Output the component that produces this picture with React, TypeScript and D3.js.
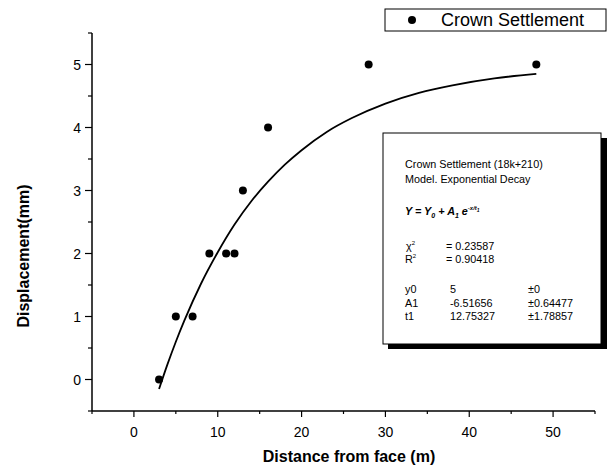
import React from "react";
import * as d3 from "d3";

const distance = [3, 5, 7, 9, 11, 12, 13, 16, 28, 48];
const settlement = [0, 1, 1, 2, 2, 2, 3, 4, 5, 5];

// fitted curve
const fitX = [3, 4, 5, 6, 8, 10, 12, 14, 16, 18, 20, 23, 26, 30, 34, 38, 43, 48];
const fitY = [-0.15, 0.24, 0.6, 0.93, 1.52, 2.02, 2.46, 2.83, 3.14, 3.41, 3.64, 3.93, 4.15, 4.38, 4.55, 4.67, 4.78, 4.85];

const xTicks = [0, 10, 20, 30, 40, 50];
const yTicks = [0, 1, 2, 3, 4, 5];

const statRows = [
  ["y0", "5", "±0"],
  ["A1", "-6.51656", "±0.64477"],
  ["t1", "12.75327", "±1.78857"],
];

const width = 607;
const height = 468;
const font = "'Liberation Sans', Arial, sans-serif";

const App = () => {
  const x = d3.scaleLinear().domain([-5, 55]).range([92, 595]);
  const y = d3.scaleLinear().domain([-0.5, 5.5]).range([411, 33]);

  const line = d3
    .line<number>()
    .x((d) => x(d))
    .y((d, i) => y(fitY[i]))
    .curve(d3.curveMonotoneX);

  const xMinor = d3.range(-5, 55.01, 5);
  const yMinor = d3.range(-0.5, 5.51, 0.5);

  return (
    <svg
      width={width}
      height={height}
      style={{ position: "absolute", left: 0, top: 0, background: "#fff" }}
      fontFamily={font}
    >
      {/* axes */}
      <line x1={92} x2={92} y1={y(5.5)} y2={y(-0.5)} stroke="#000" strokeWidth={1.5} />
      <line x1={92} x2={595} y1={411} y2={411} stroke="#000" strokeWidth={1.5} />
      {xMinor.map((t) => (
        <line key={"xm" + t} x1={x(t)} x2={x(t)} y1={411} y2={Number.isInteger(t / 10) ? 417 : 414} stroke="#000" strokeWidth={1.2} />
      ))}
      {yMinor.map((t) => (
        <line key={"ym" + t} x1={92} x2={Number.isInteger(t) ? 85 : 88} y1={y(t)} y2={y(t)} stroke="#000" strokeWidth={1.2} />
      ))}
      {xTicks.map((t) => (
        <text key={"xt" + t} x={x(t)} y={437} fontSize={14} textAnchor="middle">
          {t}
        </text>
      ))}
      {yTicks.map((t) => (
        <text key={"yt" + t} x={81} y={y(t) + 5} fontSize={14} textAnchor="end">
          {t}
        </text>
      ))}
      <text x={349} y={462} fontSize={16} fontWeight="bold" textAnchor="middle">
        Distance from face (m)
      </text>
      <text
        transform="translate(29,256) rotate(-90)"
        fontSize={16}
        fontWeight="bold"
        textAnchor="middle"
      >
        Displacement(mm)
      </text>

      {/* fit curve */}
      <path d={line(fitX) || ""} fill="none" stroke="#000" strokeWidth={1.8} />

      {/* points */}
      {distance.map((d, i) => (
        <circle key={i} cx={x(d)} cy={y(settlement[i])} r={4} fill="#000" />
      ))}

      {/* legend */}
      <rect x={385} y={9} width={221} height={22} fill="#fff" stroke="#000" strokeWidth={1} />
      <circle cx={412} cy={20} r={4} fill="#000" />
      <text x={441} y={26} fontSize={18}>
        Crown Settlement
      </text>

      {/* stats box */}
      <rect x={388} y={138} width={219} height={211} fill="#000" />
      <rect x={383} y={133} width={218} height={211} fill="#fff" stroke="#000" strokeWidth={1} />
      <g fontSize={10.8}>
        <text x={405} y={168}>Crown Settlement (18k+210)</text>
        <text x={405} y={183}>Model. Exponential Decay</text>
        <text x={405} y={215} fontWeight="bold" fontStyle="italic">
          Y = Y<tspan fontSize={7} dy={3}>0</tspan>
          <tspan dy={-3}> + A</tspan>
          <tspan fontSize={7} dy={3}>1</tspan>
          <tspan dy={-3}> e</tspan>
          <tspan fontSize={6} dy={-5}>-x/t</tspan>
          <tspan fontSize={5} dy={2}>1</tspan>
        </text>
        <text x={406} y={250}>
          χ<tspan fontSize={6} dy={-5}>2</tspan>
        </text>
        <text x={446} y={250}>= 0.23587</text>
        <text x={405} y={263}>
          R<tspan fontSize={6} dy={-5}>2</tspan>
        </text>
        <text x={446} y={263}>= 0.90418</text>
        {statRows.map((r, i) => (
          <g key={r[0]}>
            <text x={405} y={293 + i * 13.5}>{r[0]}</text>
            <text x={450} y={293 + i * 13.5}>{r[1]}</text>
            <text x={528} y={293 + i * 13.5}>{r[2]}</text>
          </g>
        ))}
      </g>
    </svg>
  );
};

export default App;
